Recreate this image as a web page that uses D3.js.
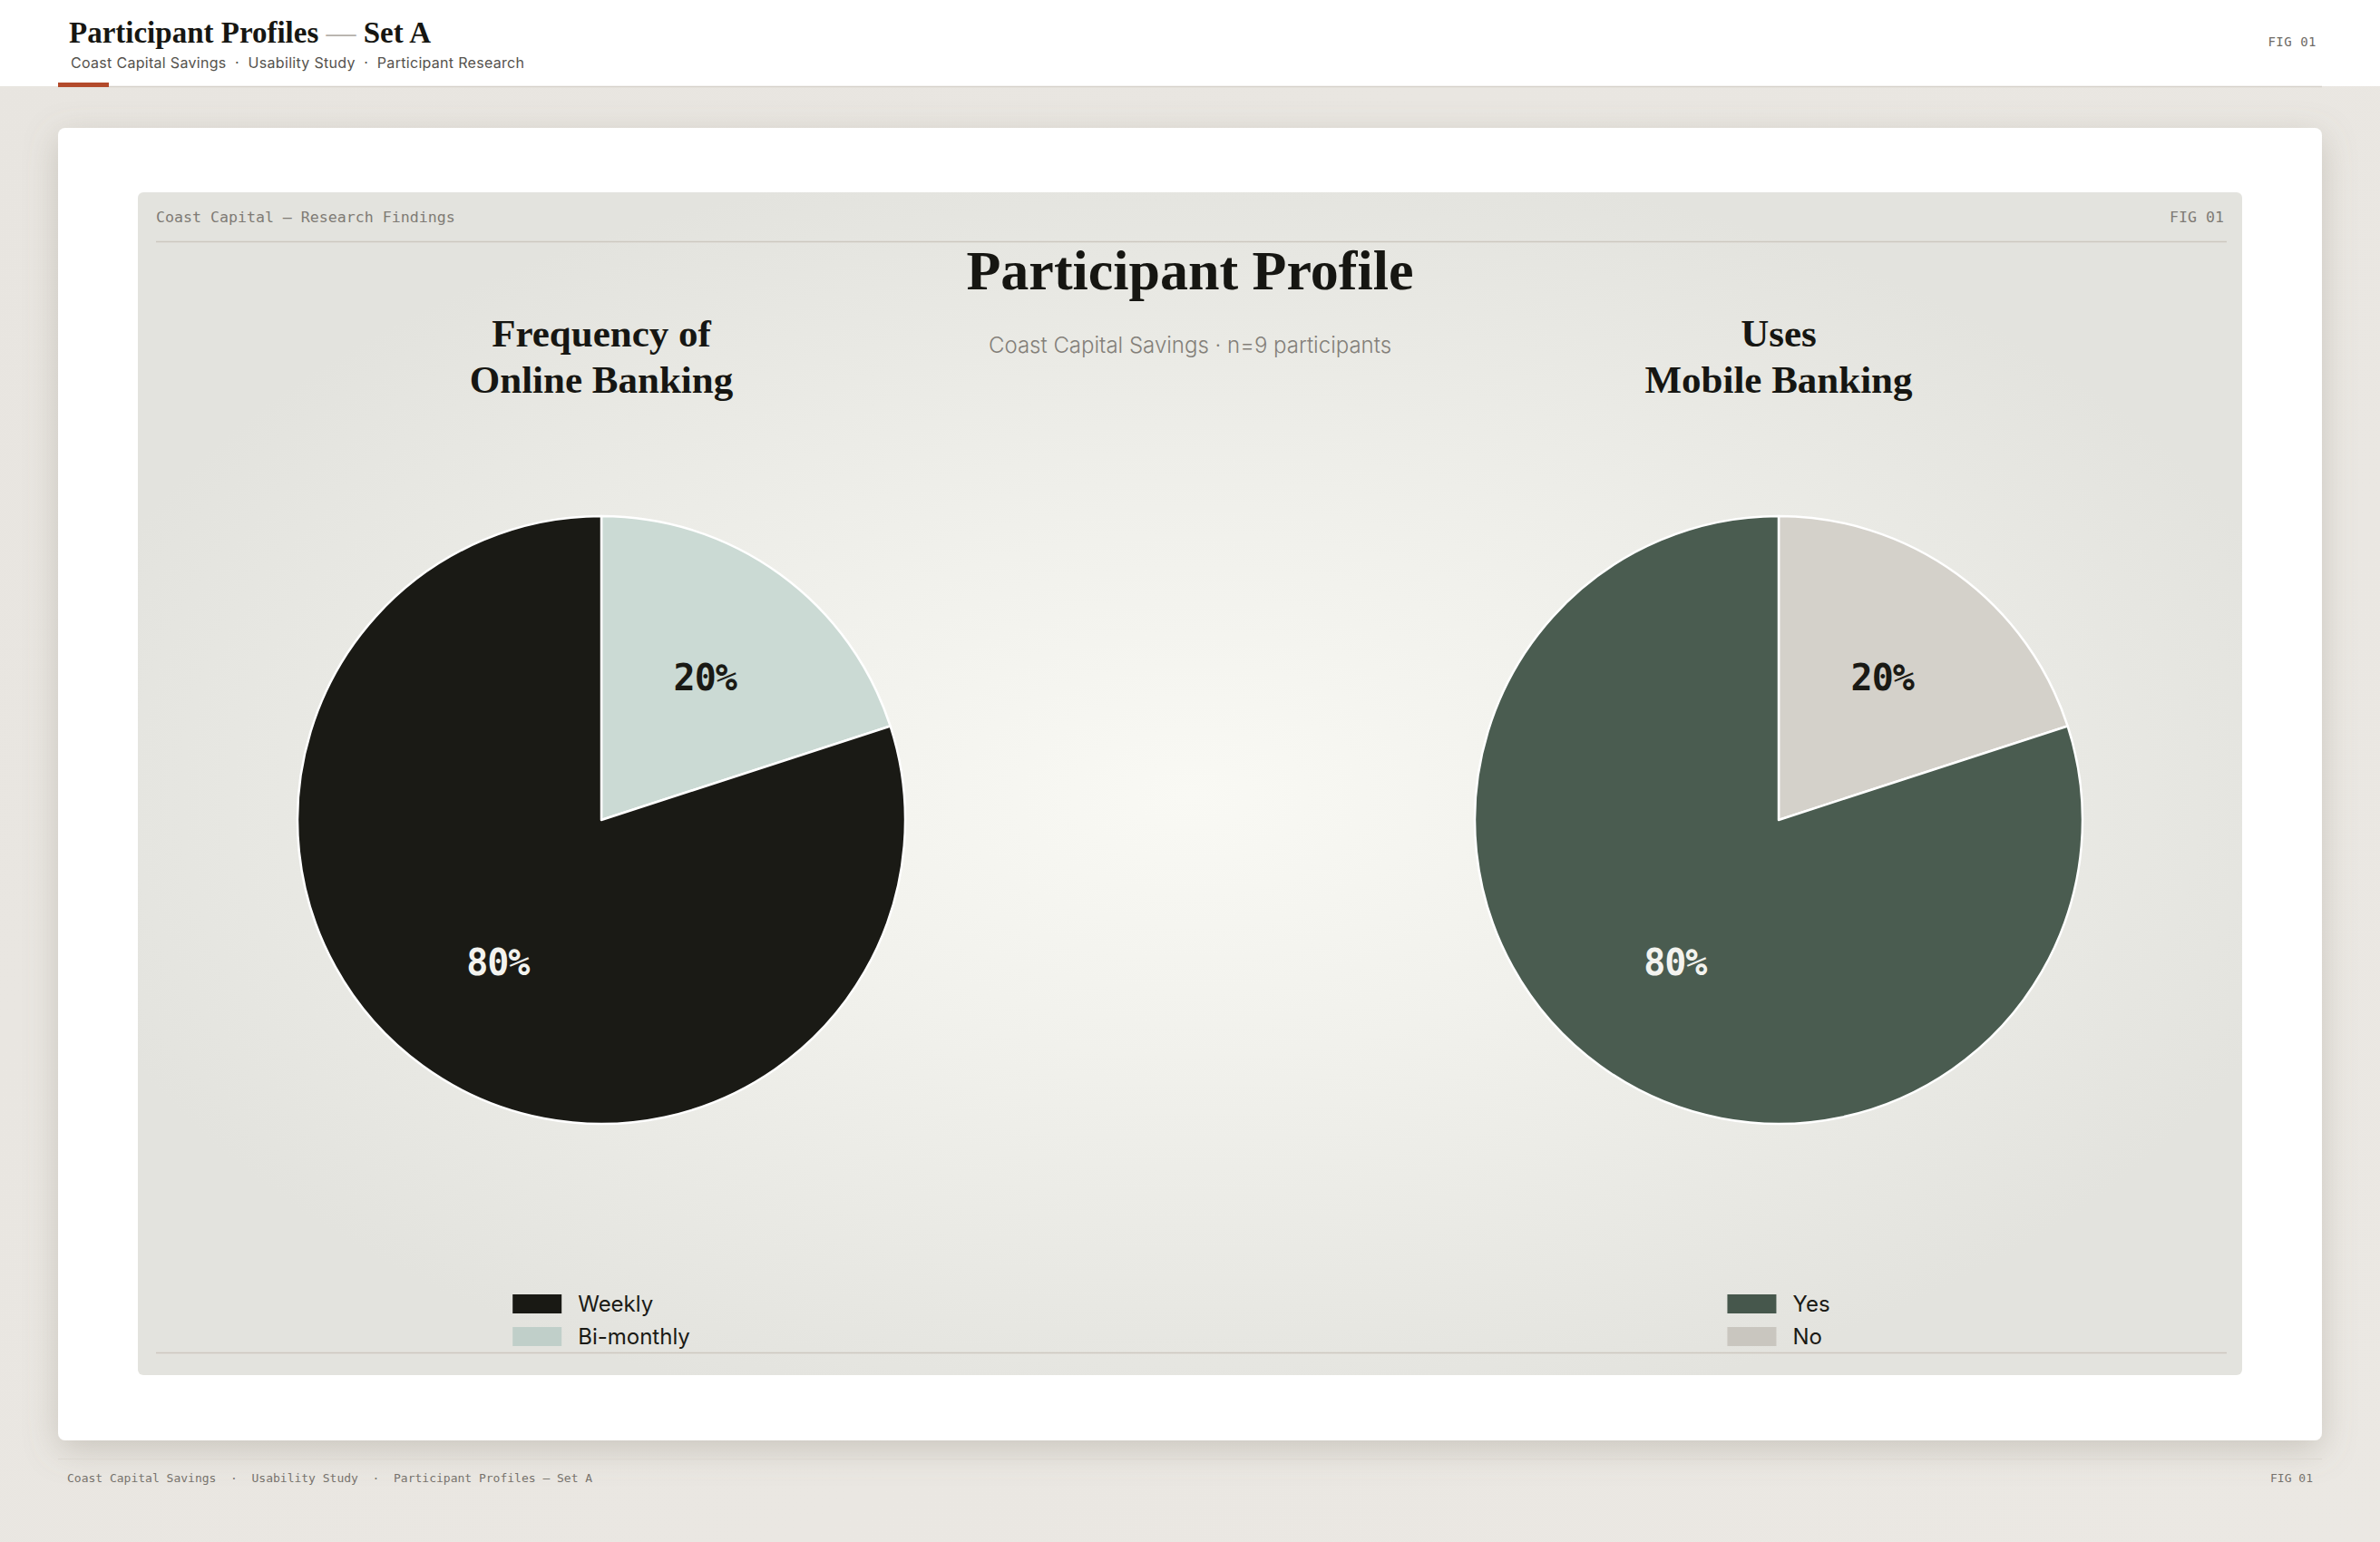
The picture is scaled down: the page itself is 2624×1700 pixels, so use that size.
<!DOCTYPE html>
<html>
<head>
<meta charset="utf-8">
<script src="https://cdn.jsdelivr.net/npm/d3@7"></script>
<style>
  body { margin: 0; background: #e9e6e1; }
  svg { display: block; }
  text { white-space: pre; }
</style>
</head>
<body>
<div id="chart"></div>
<script>
// data
const frequencyLabels = ["Weekly", "Bi-monthly"];
const frequencyValues = [80, 20];
const mobileLabels = ["Yes", "No"];
const mobileValues = [80, 20];

const frequencyColors = ["#1a1a15", "#cbdad4"];
const mobileColors = ["#4a5c50", "#d4d1ca"];

const WIDTH = 2624,
    HEIGHT = 1700;

const serif = "'Liberation Serif', 'DejaVu Serif', serif",
    sans = "Inter, 'Noto Sans', sans-serif",
    mono = "'DejaVu Sans Mono', 'Liberation Mono', monospace";

const card = { x: 64, y: 141, w: 2496, h: 1447 };
const panel = { x: 152, y: 212, w: 2320, h: 1304 };
const pieRadius = 335,
    pieY = 904,
    pieInset = 511;

const svg = d3.select("#chart")
    .append("svg")
    .attr("width", WIDTH)
    .attr("height", HEIGHT);

const defs = svg.append("defs");

const shadow = defs.append("filter")
    .attr("id", "cardShadow")
    .attr("x", "-10%").attr("y", "-10%")
    .attr("width", "120%").attr("height", "120%");
shadow.append("feDropShadow")
    .attr("dx", 0).attr("dy", 10)
    .attr("stdDeviation", 18)
    .attr("flood-color", "#857d70")
    .attr("flood-opacity", 0.32);

const glow = defs.append("radialGradient")
    .attr("id", "panelGlow")
    .attr("cx", "50%").attr("cy", "51%").attr("r", "55%");
glow.append("stop").attr("offset", "0%").attr("stop-color", "#f9f9f4");
glow.append("stop").attr("offset", "40%").attr("stop-color", "#f1f1ec");
glow.append("stop").attr("offset", "100%").attr("stop-color", "#e3e3de");

const pageGrad = defs.append("linearGradient")
    .attr("id", "pageGrad")
    .attr("x1", 0).attr("y1", 0).attr("x2", 1).attr("y2", 1);
pageGrad.append("stop").attr("offset", "0%").attr("stop-color", "#e8e5e0");
pageGrad.append("stop").attr("offset", "100%").attr("stop-color", "#ebe8e3");

svg.append("rect")
    .attr("width", WIDTH)
    .attr("height", HEIGHT)
    .attr("fill", "url(#pageGrad)");

// ---- header band
svg.append("rect")
    .attr("width", WIDTH)
    .attr("height", 95)
    .attr("fill", "#ffffff");

svg.append("line")
    .attr("x1", card.x).attr("x2", card.x + card.w)
    .attr("y1", 95.5).attr("y2", 95.5)
    .attr("stroke", "#d6d2cb")
    .attr("stroke-width", 1.5);

svg.append("rect")
    .attr("x", 64).attr("y", 91)
    .attr("width", 56).attr("height", 5)
    .attr("fill", "#b34a2b");

const headTitle = svg.append("text")
    .attr("x", 76).attr("y", 47)
    .attr("font-family", serif)
    .attr("font-size", 33)
    .attr("font-weight", "bold")
    .attr("fill", "#161612");
headTitle.append("tspan").text("Participant Profiles ");
headTitle.append("tspan").attr("fill", "#b4b0aa").attr("font-weight", "normal").text("—");
headTitle.append("tspan").text(" Set A");

svg.append("text")
    .attr("x", 78).attr("y", 75)
    .attr("font-family", sans)
    .attr("font-size", 16)
    .attr("letter-spacing", 0.3)
    .attr("fill", "#55524d")
    .text("Coast Capital Savings  ·  Usability Study  ·  Participant Research");

svg.append("text")
    .attr("x", 2554).attr("y", 51)
    .attr("text-anchor", "end")
    .attr("font-family", mono)
    .attr("font-size", 14)
    .attr("letter-spacing", 0.5)
    .attr("fill", "#6f6b66")
    .text("FIG 01");

// ---- card + panel
svg.append("rect")
    .attr("x", card.x).attr("y", card.y)
    .attr("width", card.w).attr("height", card.h)
    .attr("rx", 8)
    .attr("fill", "#ffffff")
    .attr("filter", "url(#cardShadow)");

svg.append("rect")
    .attr("x", panel.x).attr("y", panel.y)
    .attr("width", panel.w).attr("height", panel.h)
    .attr("rx", 6)
    .attr("fill", "url(#panelGlow)");

svg.append("text")
    .attr("x", 172).attr("y", 245)
    .attr("font-family", mono)
    .attr("font-size", 16.6)
    .attr("fill", "#7f7b75")
    .text("Coast Capital — Research Findings");

svg.append("text")
    .attr("x", 2452).attr("y", 245)
    .attr("text-anchor", "end")
    .attr("font-family", mono)
    .attr("font-size", 16.6)
    .attr("fill", "#7f7b75")
    .text("FIG 01");

[266.5, 1491.5].forEach((y) => {
    svg.append("line")
        .attr("x1", 172).attr("x2", 2455)
        .attr("y1", y).attr("y2", y)
        .attr("stroke", "#cdc8c0")
        .attr("stroke-width", 1.5);
});

svg.append("text")
    .attr("x", WIDTH / 2).attr("y", 319)
    .attr("text-anchor", "middle")
    .attr("font-family", serif)
    .attr("font-size", 62)
    .attr("font-weight", "bold")
    .attr("fill", "#161612")
    .text("Participant Profile");

svg.append("text")
    .attr("x", WIDTH / 2).attr("y", 389)
    .attr("text-anchor", "middle")
    .attr("font-family", sans)
    .attr("font-size", 24)
    .attr("font-weight", 300)
    .attr("fill", "#837f79")
    .text("Coast Capital Savings · n=9 participants");

// ---- pies
const pie = d3.pie()
    .sort(null)
    .value((d) => d.value);

const arc = d3.arc()
    .innerRadius(0)
    .outerRadius(pieRadius);

const labelArc = d3.arc()
    .innerRadius(pieRadius * 0.58)
    .outerRadius(pieRadius * 0.58);

function drawPie(cx, titleLines, labels, values, colors) {
    const color = d3.scaleOrdinal().domain(labels).range(colors);
    const rows = labels.map((label, i) => ({ label, value: values[i] }));
    // smallest slice starts at 12 o'clock
    const slices = pie(rows.slice().reverse());

    const title = svg.append("text")
        .attr("x", cx).attr("y", 382)
        .attr("text-anchor", "middle")
        .attr("font-family", serif)
        .attr("font-size", 43)
        .attr("font-weight", "bold")
        .attr("fill", "#161612");
    titleLines.forEach((line, i) => {
        title.append("tspan")
            .attr("x", cx)
            .attr("dy", i === 0 ? 0 : 51)
            .text(line);
    });

    const g = svg.append("g")
        .attr("transform", `translate(${cx}, ${pieY})`);

    g.selectAll("path")
        .data(slices)
        .join("path")
        .attr("d", arc)
        .attr("fill", (d) => color(d.data.label))
        .attr("stroke", "#ffffff")
        .attr("stroke-width", 2.5)
        .attr("stroke-linejoin", "round");

    g.selectAll("text")
        .data(slices)
        .join("text")
        .attr("transform", (d) => `translate(${labelArc.centroid(d)})`)
        .attr("text-anchor", "middle")
        .attr("dominant-baseline", "central")
        .attr("font-family", mono)
        .attr("font-size", 40)
        .attr("font-weight", "bold")
        .attr("letter-spacing", -1)
        .attr("fill", (d) => d3.hsl(color(d.data.label)).l > 0.5 ? "#1a1a15" : "#f3f3ef")
        .text((d) => `${d.data.value}%`);

    // legend, centred under the pie
    const legend = svg.append("g");
    const items = legend.selectAll("g")
        .data(rows)
        .join("g")
        .attr("transform", (d, i) => `translate(0, ${1427 + i * 36})`);
    items.append("rect")
        .attr("width", 54).attr("height", 21)
        .attr("fill", (d) => d3.color(color(d.label)).darker(0.15));
    items.append("text")
        .attr("x", 72).attr("y", 19)
        .attr("font-family", sans)
        .attr("font-size", 24)
        .attr("fill", "#1a1a15")
        .text((d) => d.label);
    const box = legend.node().getBBox();
    legend.attr("transform", `translate(${cx - box.width / 2}, 0)`);
}

drawPie(panel.x + pieInset, ["Frequency of", "Online Banking"],
    frequencyLabels, frequencyValues, frequencyColors);
drawPie(panel.x + panel.w - pieInset, ["Uses", "Mobile Banking"],
    mobileLabels, mobileValues, mobileColors);

// ---- footer
svg.append("line")
    .attr("x1", card.x).attr("x2", card.x + card.w)
    .attr("y1", 1608.5).attr("y2", 1608.5)
    .attr("stroke", "#dcd8d1")
    .attr("stroke-width", 1);

svg.append("text")
    .attr("x", 74).attr("y", 1634)
    .attr("font-family", mono)
    .attr("font-size", 13)
    .attr("fill", "#77736d")
    .text("Coast Capital Savings  ·  Usability Study  ·  Participant Profiles — Set A");

svg.append("text")
    .attr("x", 2550).attr("y", 1634)
    .attr("text-anchor", "end")
    .attr("font-family", mono)
    .attr("font-size", 13)
    .attr("fill", "#77736d")
    .text("FIG 01");
</script>
</body>
</html>
